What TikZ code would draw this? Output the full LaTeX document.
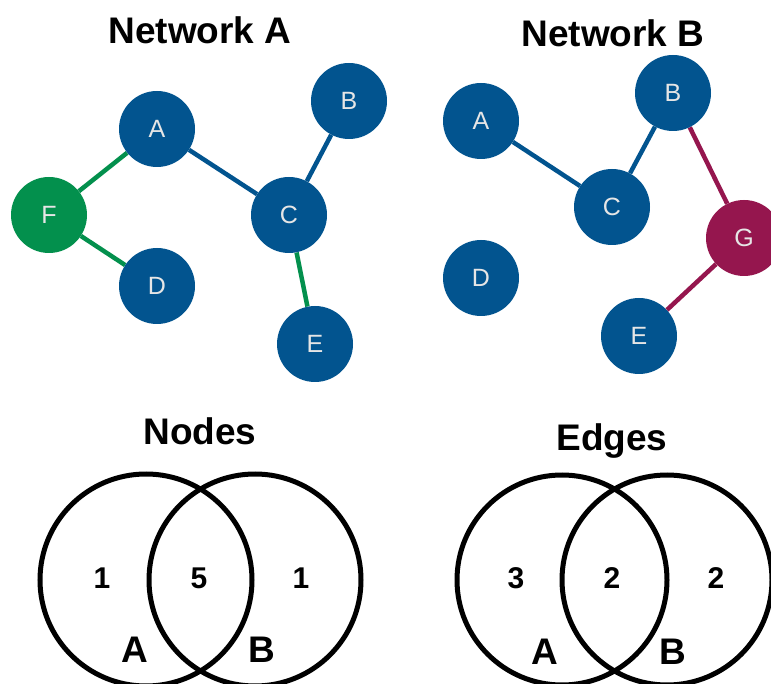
\documentclass[tikz,border=0pt]{standalone}
\usepackage{fontspec}
\setmainfont{Liberation Sans}
\definecolor{netblue}{HTML}{02548F}
\definecolor{netgreen}{HTML}{03904D}
\definecolor{netred}{HTML}{95164E}
\definecolor{labelgrey}{HTML}{E6E6E6}
\pgfdeclarelayer{edgelayer}
\pgfdeclarelayer{nodelayer}
\pgfsetlayers{edgelayer,nodelayer,main}
\tikzstyle{none}=[inner sep=0pt]
\tikzstyle{title}=[inner sep=0pt,font=\fontsize{37}{37}\selectfont\bfseries]
\tikzstyle{vertex}=[circle,fill=netblue,minimum size=76pt,inner sep=0pt,text=labelgrey,font=\fontsize{25}{25}\selectfont]
\tikzstyle{green_vertex}=[vertex,fill=netgreen]
\tikzstyle{red_vertex}=[vertex,fill=netred]
\tikzstyle{blue_edge}=[draw=netblue,line width=4.5pt]
\tikzstyle{green_edge}=[draw=netgreen,line width=4.5pt]
\tikzstyle{red_edge}=[draw=netred,line width=4.5pt]
\tikzstyle{set}=[draw=black,line width=5pt]
\tikzstyle{count}=[inner sep=0pt,font=\fontsize{30}{30}\selectfont\bfseries]
\tikzstyle{setname}=[inner sep=0pt,font=\fontsize{37}{37}\selectfont\bfseries]

\begin{document}
\begin{tikzpicture}[x=1pt,y=-1pt]
	\useasboundingbox (0,0) rectangle (771,684);
	\clip (0,0) rectangle (771,684);
	\begin{pgfonlayer}{nodelayer}
		% network A
		\node [style=title] (ta) at (200, 30) {Network A};
		\node [style=vertex] (a0) at (157, 129) {A};
		\node [style=vertex] (a1) at (349, 101) {B};
		\node [style=vertex] (a2) at (289, 215) {C};
		\node [style=vertex] (a3) at (157, 286) {D};
		\node [style=vertex] (a4) at (315, 344) {E};
		\node [style={green_vertex}] (a5) at (49, 215) {F};
		% network B
		\node [style=title] (tb) at (613, 33) {Network B};
		\node [style=vertex] (b0) at (481, 121) {A};
		\node [style=vertex] (b1) at (673, 93) {B};
		\node [style=vertex] (b2) at (612, 207) {C};
		\node [style=vertex] (b3) at (481, 278) {D};
		\node [style=vertex] (b4) at (639, 336) {E};
		\node [style={red_vertex}] (b5) at (744, 238) {G};
	\end{pgfonlayer}
	\begin{pgfonlayer}{edgelayer}
		\draw [style={green_edge}] (a5) -- (a0);
		\draw [style={green_edge}] (a5) -- (a3);
		\draw [style={blue_edge}] (a0) -- (a2);
		\draw [style={blue_edge}] (a2) -- (a1);
		\draw [style={green_edge}] (a2) -- (a4);
		\draw [style={blue_edge}] (b0) -- (b2);
		\draw [style={blue_edge}] (b2) -- (b1);
		\draw [style={red_edge}] (b1) -- (b5);
		\draw [style={red_edge}] (b5) -- (b4);
	\end{pgfonlayer}
	% venn diagrams
	\node [style=title] (tn) at (200, 431) {Nodes};
	\draw [style=set] (146, 580) circle (106);
	\draw [style=set] (255, 580) circle (106);
	\node [style=count] (n0) at (102, 578) {1};
	\node [style=count] (n1) at (199, 578) {5};
	\node [style=count] (n2) at (301, 578) {1};
	\node [style=setname] (n3) at (135, 650) {A};
	\node [style=setname] (n4) at (262, 650) {B};
	\node [style=title] (te) at (612, 441) {Edges};
	\draw [style=set] (562, 580) circle (105);
	\draw [style=set] (667, 580) circle (105);
	\node [style=count] (e0) at (516, 578) {3};
	\node [style=count] (e1) at (612, 578) {2};
	\node [style=count] (e2) at (716, 578) {2};
	\node [style=setname] (e3) at (545, 652) {A};
	\node [style=setname] (e4) at (673, 652) {B};
\end{tikzpicture}
\end{document}
